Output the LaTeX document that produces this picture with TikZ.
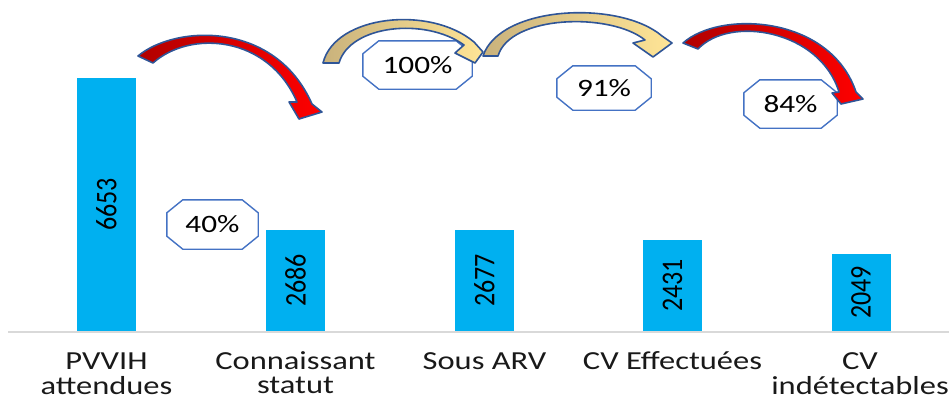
\documentclass[tikz,border=0pt]{standalone}
\usepackage{fontspec}
\setmainfont{Carlito}
\definecolor{barblue}{HTML}{00B0F0}
\definecolor{octline}{HTML}{4472C4}
\definecolor{arrowline}{HTML}{2F5597}
\definecolor{axisgray}{HTML}{D9D9D9}
\definecolor{reddark}{HTML}{B00000}
\definecolor{redlight}{HTML}{FF0000}
\definecolor{goldtan}{HTML}{C9B27C}
\definecolor{goldlight}{HTML}{FFE596}
\newcommand\widetext[1]{\scalebox{1.25}[1]{#1}}
\newcommand\barnum[1]{\rotatebox{90}{\scalebox{1}[1.15]{#1}}}
% octagon outline drawn around a named node (corner cut 16pt x 13pt)
\newcommand\octagonaround[1]{%
  \draw[octline, line width=1.4pt, fill=white, line join=round]
    ([xshift=16pt]#1.north west) -- ([xshift=-16pt]#1.north east)
    -- ([yshift=-13pt]#1.north east) -- ([yshift=13pt]#1.south east)
    -- ([xshift=-16pt]#1.south east) -- ([xshift=16pt]#1.south west)
    -- ([yshift=13pt]#1.south west) -- ([yshift=-13pt]#1.north west) -- cycle;}
\begin{document}
\begin{tikzpicture}[x=1pt,y=-1pt,
  bar/.style={fill=barblue, draw=none, minimum width=59pt, anchor=south, inner sep=0pt},
  numlabel/.style={font=\fontsize{26}{26}\selectfont, inner sep=0pt},
  catlabel/.style={font=\fontsize{26}{24}\selectfont, inner sep=0pt, anchor=base, text=black!90},
  octbox/.style={rectangle, inner sep=0pt, font=\fontsize{25}{25}\selectfont},
  curvearrow/.style={draw=arrowline, line width=1.6pt, line join=round},
  redarrow/.style={curvearrow, left color=reddark, right color=redlight},
  goldarrow/.style={curvearrow, left color=goldtan, right color=goldlight}]
\useasboundingbox (0,0) rectangle (949,399);

% axis
\coordinate (axL) at (8,332);
\coordinate (axR) at (949,332);
\draw[axisgray, line width=1.5pt] (axL) -- (axR);

% bars
\node[bar, minimum height=253pt] (b1) at (106.5,331) {};
\node[bar, minimum height=101pt] (b2) at (295.5,331) {};
\node[bar, minimum height=101pt] (b3) at (484.5,331) {};
\node[bar, minimum height=91pt]  (b4) at (672.5,331) {};
\node[bar, minimum height=77pt]  (b5) at (861,331) {};

\node[numlabel] (n1) at (b1.center) {\barnum{6653}};
\node[numlabel] (n2) at (b2.center) {\barnum{2686}};
\node[numlabel] (n3) at (b3.center) {\barnum{2677}};
\node[numlabel] (n4) at (b4.center) {\barnum{2431}};
\node[numlabel] (n5) at (b5.center) {\barnum{2049}};

% category labels
\node[catlabel] (c1) at (106.5,369) {\widetext{\begin{tabular}[t]{@{}c@{}}PVVIH\\attendues\end{tabular}}};
\node[catlabel] (c2) at (295.5,369) {\widetext{\begin{tabular}[t]{@{}c@{}}Connaissant\\statut\end{tabular}}};
\node[catlabel] (c3) at (484.5,369) {\widetext{Sous ARV}};
\node[catlabel] (c4) at (672.5,369) {\widetext{CV Effectuées}};
\node[catlabel] (c5) at (860,369) {\widetext{\begin{tabular}[t]{@{}c@{}}CV\\indétectables\end{tabular}}};

% percentage boxes: frame nodes, outlines, then the texts
\node[octbox, minimum width=91pt, minimum height=49pt] (p1) at (212.5,224.5) {};
\node[octbox, minimum width=109pt, minimum height=48pt] (p2) at (417.5,65) {};
\node[octbox, minimum width=94pt, minimum height=44pt] (p3) at (604,88) {};
\node[octbox, minimum width=93pt, minimum height=48pt] (p4) at (790.5,104) {};
\octagonaround{p1}
\octagonaround{p2}
\octagonaround{p3}
\octagonaround{p4}
\node[octbox] (t1) at (p1.center) {\widetext{40\%}};
\node[octbox] (t2) at (p2.center) {\widetext{100\%}};
\node[octbox] (t3) at (p3.center) {\widetext{91\%}};
\node[octbox] (t4) at (p4.center) {\widetext{84\%}};

% curved block arrows
\shadedraw[redarrow] (138,56) .. controls (175,25) and (275,20) .. (312,104)
  -- (322,112) -- (299,119) -- (289,102) -- (297,102)
  .. controls (268,35) and (190,30) .. (153,63) -- cycle;
\shadedraw[goldarrow] (323,63) .. controls (335,15) and (430,5) .. (474,42)
  -- (483,52) -- (475,63) -- (455,53) -- (464,45)
  .. controls (425,17) and (350,25) .. (339,63) -- cycle;
\shadedraw[goldarrow] (483,56) .. controls (500,5) and (620,0) .. (662,36)
  -- (672,43) -- (653,57) -- (633,43) -- (645,40)
  .. controls (610,12) and (510,15) .. (498,56) -- cycle;
\shadedraw[redarrow] (683,43) .. controls (720,10) and (830,15) .. (856,92)
  -- (863,99) -- (841,104) -- (832,93) -- (839,92)
  .. controls (820,30) and (730,15) .. (698,49) -- cycle;
\end{tikzpicture}
\end{document}
